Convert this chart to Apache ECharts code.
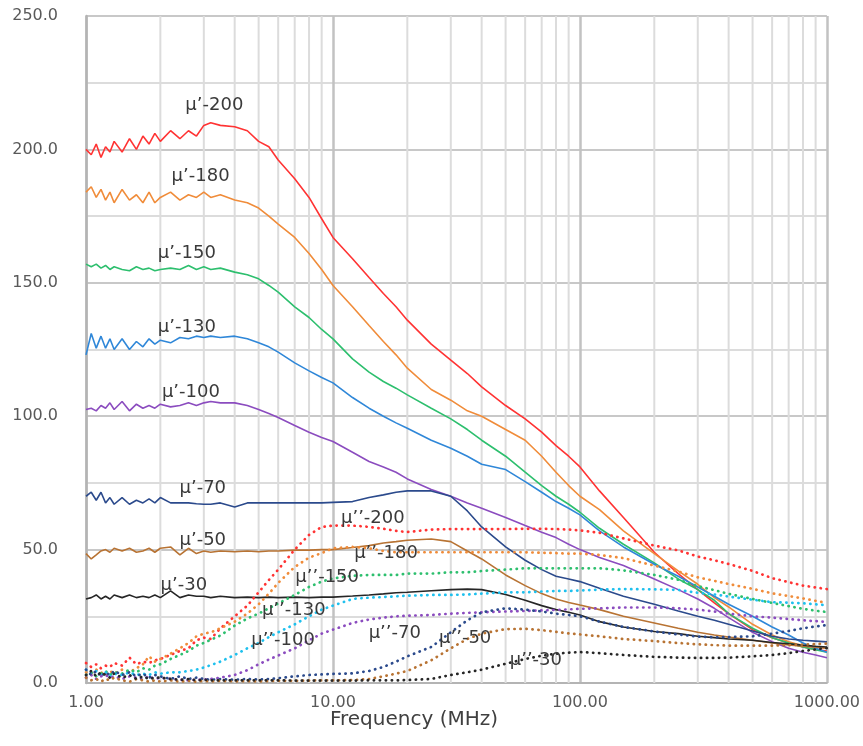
<!DOCTYPE html>
<html><head><meta charset="utf-8">
<script src="https://cdn.jsdelivr.net/npm/echarts@6/dist/echarts.min.js"></script>
<style>html,body{margin:0;padding:0;background:#fff}#c{width:863px;height:746px}</style>
</head><body><div id="c"></div>
<script>
// Frequency (MHz)
const freq = [1.0,1.05,1.1,1.15,1.2,1.25,1.3, 1.4,1.5,1.6,1.7,1.8,1.9,2.0, 2.2,2.4,2.6,2.8,3.0,3.2, 3.5,4.0,4.5,5,5.5,6, 7,8,9,10, 12,14,16,18,20, 25,30,35,40, 50,60,70,80,90,100, 120,150,200,250,300,350,400, 500,600,700,800,900,1000];

const xTicks = [1, 10, 100, 1000];
const yTicks = [0, 50, 100, 150, 200, 250];
const minorFreqs = [2,3,4,5,6,7,8,9,20,30,40,50,60,70,80,90,200,300,400,500,600,700,800,900];

// mu' (real part)
const muP200 = [200,198,202,197,201,199,203, 199,204,200,205,202,206,203, 207,204,207,205,209,210, 209,208.5,207,203,201,196, 189,182,174,167, 159,152,146,141,136, 127,121,116,111, 104,99,94,89,85,81, 72,62,49,41,35,30,26, 20,17,15,13.5,12.5,12];
const muP180 = [184,186,182,185,181,184,180, 185,181,183,180,184,180,182, 184,181,183,182,184,182, 183,181,180,178,175,172, 167,161,155,149, 141,134,128,123,118, 110,106,102,100, 95,91,85,79,74,70, 65,57,48.5,42,37,32,28.5, 22,18,15.5,14,13.5,13];
const muP150 = [157,156,157,155.5,156.5,155,156, 155,154.5,156,155,155.5,154.5,155, 155.5,155,156.5,155,156,155, 155.5,154,153,151.5,149,146.5, 141,137,132.5,129, 121.5,116.5,113,110.5,108, 103,99,95,91, 85,79,74,70,67,64, 58,52,45,39,35,31,26, 20.5,17,15,13.5,12.5,11.5];
const muP130 = [123,131,125.5,130,125.5,129,125, 129,125,128,126,129,127,128.5, 127.5,129.5,129,130,129.5,130, 129.5,130,129,127.5,126,124, 120,117,114.5,112.5, 107,103,100,97.5,95.5, 91,88,85,82, 80,75.5,71.5,68,65.5,63, 57,51,44.5,40,36,32.5,29.5, 25,21,18,15,13,11.5];
const muP100 = [102.5,103,102,104,103,105,102.5, 105.5,102,104.5,103,104,103,104.5, 103.5,104,105,104,105,105.5, 105,105,104,102.5,101,99.5, 96.5,94,92,90.5, 86.5,83,81,79,76.5, 72.5,70,67.5,65.5, 62,59,56.5,54.5,52,50, 47,44,39,35,31.5,28,24.5, 19,15.5,13,11.5,10.5,9.5];
const muP70 = [70,71.5,68.5,71.5,67.5,69.5,67, 69.5,67,68.5,67.5,69,67.5,69.5, 67.5,67.5,67.5,67.2,67,67, 67.5,66,67.5,67.5,67.5,67.5, 67.5,67.5,67.5,67.7, 68,69.5,70.5,71.5,72, 72,70,64.5,58.5, 51,46,42.5,40,39,38, 35.5,32.5,29.5,27,25,23.5,22, 19.5,17.5,16.5,16,15.7,15.4];
const muP50 = [48.5,46.5,48,49.5,50,49,50.5, 49.5,50.5,49,49.5,50.5,49,50.5, 51,48,50.5,48.5,49.5,49, 49.5,49.2,49.5,49.2,49.5,49.5, 49.8,49.8,50,50, 50.8,51.5,52.5,53,53.5, 54,53,49.5,46.5, 40.5,36.5,33.5,31.5,30.2,29.2, 27.5,25,22.5,20.5,19,18,17.2, 16,15,14.3,13.8,13.4,13];
const muP30 = [31.5,32,33,31.5,32.5,31.5,33, 32,33,32,32.5,32,33,32, 34.5,32,33,32.5,32.5,32, 32.5,32,32.2,32,32.2,32, 32.2,32,32.2,32.2, 32.6,33,33.4,33.8,34, 34.6,35,35.2,35, 33.2,31,29,27.5,26.5,25.5, 23,21,19.3,18.5,17.5,17,16.5, 16,15.2,14.7,14.2,13.8,13.5];

// mu'' (imaginary part)
const muPP200 = [7.5,6,7,5.5,6.5,6,7.5, 6.5,9.5,7,8,7.5,8.5,9, 10.5,12,13,16,17,16.5, 20.5,25,29,34,38.6,42.5, 50,55.5,58.5,59, 59,58.5,57.8,57,56.6, 57.5,57.7,57.7,57.7, 57.7,57.8,57.8,57.7,57.5,57.2, 56.3,54.2,51.5,49.7,47.4,46,44.6, 42,39.3,37.8,36.5,35.8,35.2];
const muPP180 = [4,3.5,5,4,3,4.5,3.5, 5,4,5.5,7,10,8,9, 11,13,15,17.5,18.5,19, 20.5,23,26,29.5,33.5,37.5, 43.5,47,48.7,50.5, 51,50.5,49.5,49,49, 49,49,49,49, 49,49,48.8,48.7,48.5,48.5, 48,46.8,44,41.8,39.6,38.3,37.1, 35.3,33.6,32.6,31.7,30.8,30];
const muPP150 = [3,4,2.5,3.5,4.5,3,4, 3.5,5,4,5.5,5,6.5,7, 9,10.5,12,14,15,16.2, 17.8,21.5,24.2,26,28,29.8, 33,36,38,39.2, 40.2,40.5,40.5,40.5,41, 41,41.5,41.5,42, 42.5,43,43,43,43,43, 43,42.2,40.5,38.7,36.3,34.8,33.4, 31.5,30,28.8,27.8,27.1,26.6];
const muPP130 = [5,3.5,4.5,3,4,2.5,3.5, 3,4,3,3.5,3,4,3.5, 4,4,4.5,5,5.8,6.7, 8,10.5,13,15,17.2,19, 22,25,27.5,29, 31.5,32,32.2,32.5,32.7, 33,33,33.2,33.5, 34,34,34.3,34.5,34.5,34.7, 35,35.2,35.1,34.9,33.8,33.2,32.4, 31.2,30.3,30.1,29.9,29.5,29.2];
const muPP100 = [2,3,1.5,2.5,3,2,2.5, 1.5,2.5,2,1.5,2.5,1.5,2, 1.5,1.2,1,1.2,1.3,1.5, 2,3,4.8,7,8.8,10.3, 13,16,18.5,20, 22.5,23.8,24.5,25,25.2, 25.5,26,26.3,26.5, 26.8,27,27.2,27.4,27.6,27.8, 28,28.3,28.3,28,27.5,26.8,26, 25,24.5,24,23.5,23.2,22.9];
const muPP70 = [5,3,4.5,2.5,4,3,4.5, 3,4,2.5,3.5,2,3,2.5, 1.5,2.5,1.5,2,1.5,1.2, 1.5,1.2,1.5,1.3,1.5,1.8, 2.5,3,3.2,3.4, 3.6,4.5,6,8,10, 13.5,19,23.5,26.5, 28,27.5,26.8,26,25.5,25, 23,21,19.3,18.2,17.4,17.1,17.2, 17.5,18.5,19.5,20.5,21.2,21.7];
const muPP50 = [2,1,1.5,0.5,1.5,1,2, 1,0.5,1.5,1,0.5,1,0.5, 1,0.5,0.8,0.5,0.8,0.6, 0.8,0.6,0.7,0.6,0.7,0.8, 0.8,0.9,1,1, 1.1,1.5,2.5,3.5,4.5, 8.5,13,16.5,18.5, 20.2,20.3,19.8,19.2,18.6,18.2, 17.5,16.5,15.7,15,14.5,14.2,14, 14,14,14.2,14.4,14.6,14.8];
const muPP30 = [3,4.5,2.5,4,3,2,3.5, 2,3,1.5,2.5,1.5,2,2, 1.5,1.2,1.5,1,1.2,1, 1,1,1,1,1,1, 0.9,0.9,0.9,0.9, 0.9,1,1,1,1.1, 1.5,3,4,5, 7.2,9,10.2,11,11.4,11.6, 11.2,10.5,9.8,9.5,9.4,9.4,9.5, 10,10.5,11.2,12,12.6,13.1];

const FONT = 'DejaVu Sans';

// series definitions: [name, values, color, dotted, label anchor (freq, value)]
const defs = [
  ['μ’-200', muP200, '#ff3333', false, [3.31, 216.6]],
  ['μ’-180', muP180, '#f08c3a', false, [2.91, 190]],
  ['μ’-150', muP150, '#2dbf6e', false, [2.56, 161.2]],
  ['μ’-130', muP130, '#2f87d8', false, [2.56, 133.4]],
  ['μ’-100', muP100, '#8b4cbf', false, [2.66, 109]],
  ['μ’-70',  muP70,  '#2b4a8c', false, [2.97, 73]],
  ['μ’-50',  muP50,  '#b87333', false, [2.97, 53.6]],
  ['μ’-30',  muP30,  '#262626', false, [2.49, 36.7]],
  ['μ’’-200', muPP200, '#ff3333', true, [14.5, 61.8]],
  ['μ’’-180', muPP180, '#f08c3a', true, [16.4, 48.7]],
  ['μ’’-150', muPP150, '#2dbf6e', true, [9.47, 39.7]],
  ['μ’’-130', muPP130, '#1ec0ee', true, [6.94, 27.4]],
  ['μ’’-100', muPP100, '#8b4cbf', true, [6.28, 16.1]],
  ['μ’’-70',  muPP70,  '#2b4a8c', true, [17.8, 18.7]],
  ['μ’’-50',  muPP50,  '#b87333', true, [34.3, 16.9]],
  ['μ’’-30',  muPP30,  '#262626', true, [66.3, 8.6]]
];

// minor vertical grid lines (2..9 per decade), drawn through the x scale
const series = [{
  type: 'custom',
  name: 'minorGrid',
  silent: true,
  z: 1,
  encode: {x: 0, y: 1},
  data: minorFreqs.map(f => [f, 125]),
  renderItem: function (params, api) {
    const f = api.value(0);
    const p1 = api.coord([f, 0]);
    const p2 = api.coord([f, 250]);
    return {type: 'line', shape: {x1: p1[0], y1: p1[1], x2: p2[0], y2: p2[1]},
            style: {stroke: '#dcdcdc', lineWidth: 2}};
  }
}];

defs.forEach(d => {
  const [name, vals, color, dotted, lab] = d;
  series.push({
    type: 'line',
    name: name,
    z: 3,
    silent: true,
    symbol: 'none',
    showSymbol: false,
    data: freq.map((f, i) => [f, vals[i]]),
    lineStyle: dotted
      ? {color: color, width: 2.7, type: [0.3, 5.7], cap: 'round'}
      : {color: color, width: 1.6},
    markPoint: {
      silent: true,
      symbol: 'circle',
      symbolSize: 1,
      itemStyle: {color: 'rgba(0,0,0,0)'},
      label: {show: true, position: 'inside', formatter: name, color: '#3a3a3a',
              fontSize: 18, fontFamily: FONT},
      data: [{coord: lab}]
    }
  });
});

const chart = echarts.init(document.getElementById('c'));
chart.setOption({
  animation: false,
  backgroundColor: '#ffffff',
  grid: {left: 86, right: 21, top: 16, bottom: 63, containLabel: false},
  xAxis: {
    type: 'log', logBase: 10, min: xTicks[0], max: xTicks[xTicks.length - 1],
    axisLine: {show: true, lineStyle: {color: '#b4b4b4', width: 2}},
    axisTick: {show: false},
    axisLabel: {formatter: v => Number(v).toFixed(2), color: '#595959', fontSize: 16,
                fontFamily: FONT, margin: 12},
    splitLine: {show: true, lineStyle: {color: '#c2c2c2', width: 2.5}}
  },
  yAxis: {
    type: 'value', min: yTicks[0], max: yTicks[yTicks.length - 1], interval: 50,
    axisLine: {show: true, lineStyle: {color: '#b4b4b4', width: 2.5}},
    axisTick: {show: false},
    axisLabel: {formatter: v => Number(v).toFixed(1), color: '#595959', fontSize: 16,
                fontFamily: FONT, margin: 28},
    splitLine: {show: true, lineStyle: {color: '#c8c8c8', width: 2}},
    minorTick: {show: false, splitNumber: 2},
    minorSplitLine: {show: true, lineStyle: {color: '#dcdcdc', width: 2}}
  },
  graphic: [{
    type: 'text', x: 414, y: 720,
    style: {text: 'Frequency (MHz)', fontSize: 20, fontFamily: FONT, fill: '#404040',
            align: 'center', verticalAlign: 'middle', textAlign: 'center', textVerticalAlign: 'middle'}
  }],
  series: series
});
</script>
</body></html>
